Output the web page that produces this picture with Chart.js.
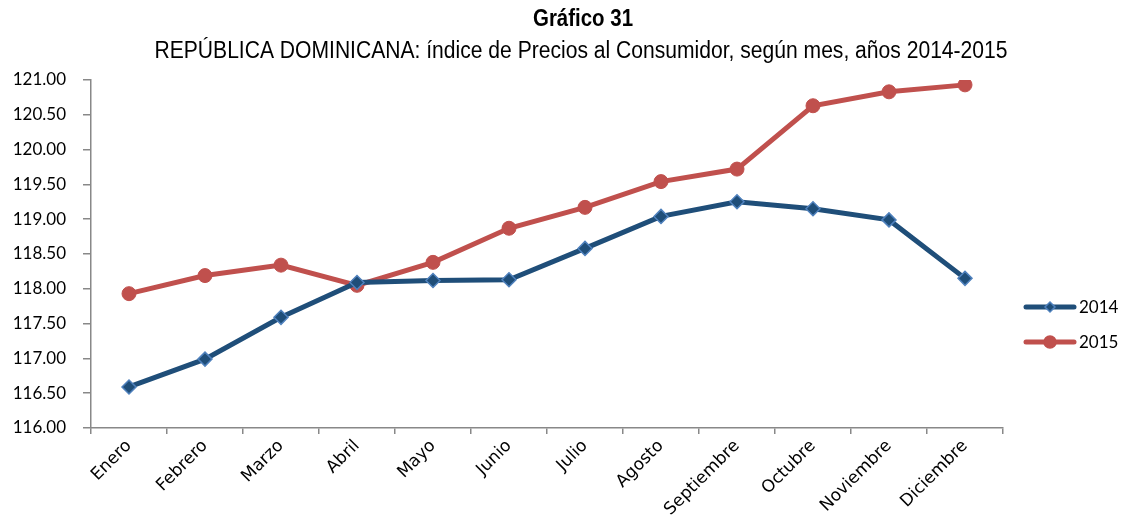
<!DOCTYPE html>
<html>
<head>
<meta charset="utf-8">
<script src="https://cdn.jsdelivr.net/npm/chart.js@4.4.1/dist/chart.umd.min.js"></script>
<style>
  html, body { margin: 0; padding: 0; background: #fff; }
  #wrap { width: 1123px; height: 521px; }
</style>
</head>
<body>
<div id="wrap"><canvas id="ipc-graph" width="1123" height="521"></canvas></div>
<script>
var meses = ["Enero", "Febrero", "Marzo", "Abril", "Mayo", "Junio", "Julio",
             "Agosto", "Septiembre", "Octubre", "Noviembre", "Diciembre"];
var ipc2014 = [116.59, 116.99, 117.59, 118.09, 118.12, 118.13, 118.58, 119.04, 119.25, 119.15, 118.99, 118.15];
var ipc2015 = [117.93, 118.19, 118.34, 118.05, 118.38, 118.87, 119.17, 119.54, 119.72, 120.63, 120.83, 120.93];
var yMin = 116, yMax = 121, yStep = 0.5;

var titulo = "Gráfico 31";
var subtitulo = "REPÚBLICA DOMINICANA: índice de Precios al Consumidor, según mes, años 2014-2015";

// narrow text: no condensed font installed, so squeeze a normal one
function narrowText(ctx, txt, cx, cy, w) {
    var m = ctx.measureText(txt).width;
    var s = w / m;
    ctx.save();
    ctx.translate(cx, cy);
    ctx.scale(s, 1);
    ctx.fillText(txt, 0, 0);
    ctx.restore();
}

// titles + legend drawn by hand (Excel-style layout)
var extras = {
    id: 'extras',
    afterDraw: function(chart) {
        var ctx = chart.ctx;
        ctx.save();
        ctx.fillStyle = "#000";
        ctx.textAlign = "center";
        ctx.textBaseline = "middle";
        ctx.font = "bold 23px 'Liberation Sans', sans-serif";
        narrowText(ctx, titulo, 583, 20, 100);
        ctx.font = "23px 'Liberation Sans', sans-serif";
        narrowText(ctx, subtitulo, 581, 52, 853);

        var ds = chart.data.datasets;
        var ys = [307, 342];
        for (var i = 0; i < ds.length; i++) {
            var y = ys[i];
            ctx.strokeStyle = ds[i].borderColor;
            ctx.lineWidth = 5;
            ctx.lineCap = "round";
            ctx.beginPath();
            ctx.moveTo(1026, y);
            ctx.lineTo(1074, y);
            ctx.stroke();
            ctx.fillStyle = ds[i].pointBackgroundColor;
            ctx.strokeStyle = ds[i].pointBorderColor;
            ctx.lineWidth = 1.5;
            ctx.beginPath();
            if (ds[i].pointStyle === 'rectRot') {
                ctx.moveTo(1050, y - 5);
                ctx.lineTo(1055, y);
                ctx.lineTo(1050, y + 5);
                ctx.lineTo(1045, y);
                ctx.closePath();
            } else {
                ctx.arc(1050, y, 6, 0, Math.PI * 2);
            }
            ctx.fill();
            ctx.stroke();
            ctx.fillStyle = "#000";
            ctx.textAlign = "left";
            ctx.font = "17px Lato, 'Liberation Sans', sans-serif";
            ctx.fillText(ds[i].label, 1079, y + 1);
        }
        ctx.restore();
    }
};

var ctx = document.getElementById("ipc-graph");
var ipcChart = new Chart(ctx, {
    type: 'line',
    data: {
        labels: meses,
        datasets: [
            {
                label: "2014",
                data: ipc2014,
                borderColor: "#1F4E79",
                borderWidth: 5,
                pointStyle: 'rectRot',
                pointRadius: 7,
                pointBackgroundColor: "#1F4E79",
                pointBorderColor: "#4F81BD",
                pointBorderWidth: 1.5,
                tension: 0
            },
            {
                label: "2015",
                data: ipc2015,
                borderColor: "#C0504D",
                borderWidth: 5,
                pointStyle: 'circle',
                pointRadius: 7,
                pointBackgroundColor: "#C0504D",
                pointBorderColor: "#C0504D",
                pointBorderWidth: 1,
                tension: 0
            }
        ]
    },
    options: {
        responsive: false,
        animation: false,
        layout: { padding: { top: 80, right: 120, left: 4, bottom: 0 } },
        plugins: {
            legend: { display: false },
            title: { display: false },
            tooltip: { enabled: false }
        },
        scales: {
            x: {
                offset: true,
                afterFit: function(scale) { scale.height = 93; },
                grid: { display: true, drawOnChartArea: false, offset: true, tickLength: 6, color: "#888", lineWidth: 1.5 },
                border: { color: "#888", width: 1.5 },
                ticks: {
                    color: "#000",
                    maxRotation: 45, minRotation: 45,
                    font: { family: "'DejaVu Sans', sans-serif", size: 17 },
                    padding: 2
                }
            },
            y: {
                min: yMin, max: yMax,
                afterFit: function(scale) { scale.width = 87; },
                grid: { display: true, drawOnChartArea: false, tickLength: 8, color: "#888", lineWidth: 1.5 },
                border: { color: "#888", width: 1.5 },
                ticks: {
                    stepSize: yStep,
                    color: "#000",
                    font: { family: "Lato, 'Liberation Sans', sans-serif", size: 17 },
                    padding: 17,
                    callback: function(v) { return Number(v).toFixed(2); }
                }
            }
        }
    },
    plugins: [extras]
});
</script>
</body>
</html>
